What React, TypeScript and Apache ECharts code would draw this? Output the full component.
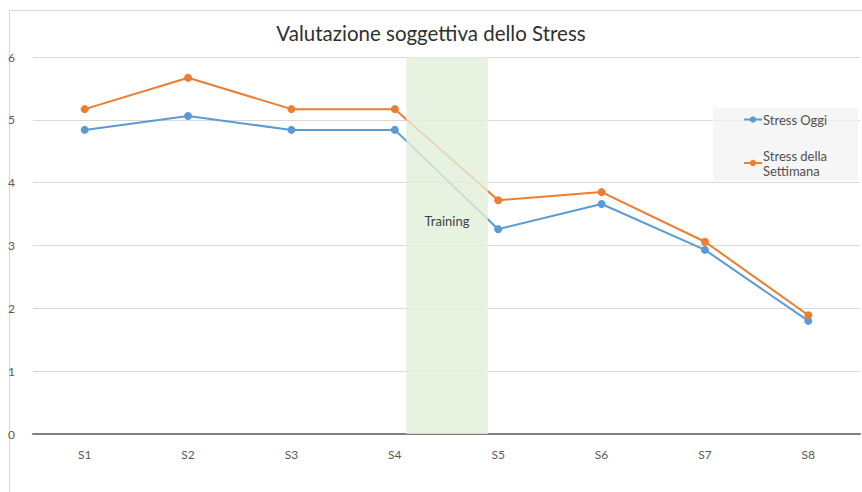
import React, { useEffect, useRef } from "react";
import * as echarts from "echarts";

const categories = ["S1", "S2", "S3", "S4", "S5", "S6", "S7", "S8"];
const stressOggi = [4.84, 5.06, 4.84, 4.84, 3.26, 3.66, 2.93, 1.8];
const stressSettimana = [5.17, 5.67, 5.17, 5.17, 3.72, 3.85, 3.06, 1.89];
const trainingRange = [4.11, 4.9];
const yTicks = { min: 0, max: 6, interval: 1 };

const FONT = "Lato";

export default function App() {
  const ref = useRef<HTMLDivElement>(null);
  useEffect(() => {
    document.body.style.margin = "0";
    const chart = echarts.init(ref.current!, null, { renderer: "svg" });
    chart.setOption({
      animation: false,
      backgroundColor: "#ffffff",
      textStyle: { fontFamily: FONT },
      title: {
        text: "Valutazione soggettiva dello Stress",
        left: "center",
        top: 17,
        textStyle: { fontFamily: FONT, fontSize: 20.5, fontWeight: "normal", color: "#303030" },
      },
      graphic: [
        {
          type: "rect",
          shape: { x: 9.5, y: 10.5, width: 870, height: 500 },
          style: { fill: "none", stroke: "#d9d9d9", lineWidth: 1 },
          silent: true,
          z: -10,
        },
      ],
      legend: {
        orient: "vertical",
        left: 713,
        top: 108,
        padding: [4, 31, 3, 30],
        backgroundColor: "rgba(242,242,242,0.7)",
        itemWidth: 18,
        itemHeight: 8,
        itemGap: 21,
        data: ["Stress Oggi", "Stress della Settimana"],
        formatter: (n: string) => (n === "Stress della Settimana" ? "Stress della\nSettimana" : n),
        textStyle: { fontFamily: FONT, fontSize: 13, color: "#505050", lineHeight: 15, padding: [0, 0, 0, -4] },
      },
      grid: { left: 33, right: 2, top: 57, bottom: 58, containLabel: false },
      xAxis: [
        {
          type: "category",
          data: categories,
          boundaryGap: true,
          axisLine: { lineStyle: { color: "#808080", width: 2 } },
          axisTick: { show: false },
          axisLabel: { fontFamily: FONT, fontSize: 12, color: "#595959", margin: 14 },
        },
        {
          type: "value",
          min: 0.5,
          max: 8.5,
          show: false,
          position: "bottom",
        },
      ],
      yAxis: {
        type: "value",
        min: yTicks.min,
        max: yTicks.max,
        interval: yTicks.interval,
        axisLine: { show: false },
        axisTick: { show: false },
        splitLine: { lineStyle: { color: "#d9d9d9", width: 1 } },
        axisLabel: { fontFamily: FONT, fontSize: 12, color: "#595959", margin: 18 },
      },
      series: [
        {
          name: "Stress Oggi",
          type: "line",
          data: stressOggi,
          symbol: "circle",
          symbolSize: 8,
          color: "#5b9bd5",
          lineStyle: { width: 2, color: "#5b9bd5" },
          z: 2,
        },
        {
          name: "Stress della Settimana",
          type: "line",
          data: stressSettimana,
          symbol: "circle",
          symbolSize: 8,
          color: "#ed7d31",
          lineStyle: { width: 2, color: "#ed7d31" },
          z: 2,
        },
        {
          name: "training",
          type: "line",
          xAxisIndex: 1,
          data: [],
          z: 10,
          silent: true,
          markArea: {
            silent: true,
            z: 10,
            itemStyle: { color: "rgba(226,239,218,0.8)" },
            label: {
              show: true,
              position: ["50%", "43.5%"],
              align: "center",
              verticalAlign: "middle",
              formatter: "Training",
              fontFamily: FONT,
              fontSize: 13,
              color: "#404040",
            },
            data: [[{ xAxis: trainingRange[0], yAxis: 6.03 }, { xAxis: trainingRange[1], yAxis: 0 }]],
          },
        },
      ],
    });
    return () => chart.dispose();
  }, []);
  return <div ref={ref} style={{ width: 862, height: 492 }} />;
}
